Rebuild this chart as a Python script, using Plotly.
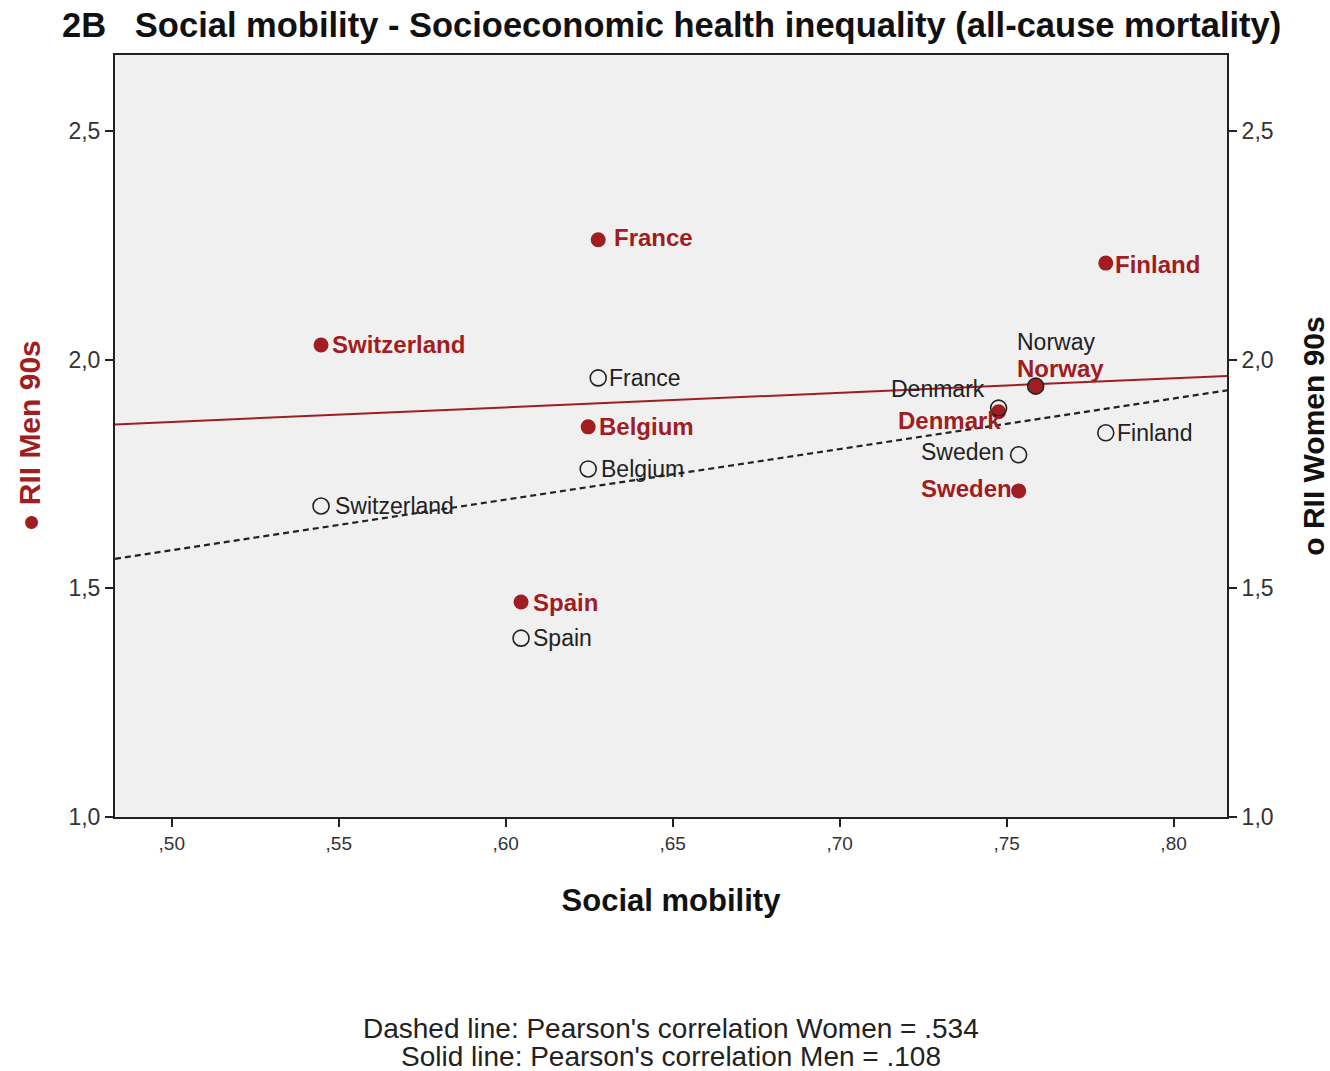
import numpy as np
import plotly.graph_objects as go

countries = ["France", "Finland", "Switzerland", "Belgium", "Norway", "Denmark", "Sweden", "Spain"]
social_mobility = [0.6277, 0.7797, 0.5447, 0.6247, 0.7587, 0.7476, 0.7536, 0.6046]
rii_men = [2.262, 2.211, 2.032, 1.853, 1.942, 1.886, 1.713, 1.470]
rii_women = [1.960, 1.840, 1.680, 1.761, 1.942, 1.894, 1.792, 1.391]

x_tickvals = [0.50, 0.55, 0.60, 0.65, 0.70, 0.75, 0.80]
x_ticktext = [",50", ",55", ",60", ",65", ",70", ",75", ",80"]
y_tickvals = [1.0, 1.5, 2.0, 2.5]

XR = [0.483, 0.816]
YR = [1.0, 2.666]
RED = "#a01d22"
FONT = "Liberation Sans, Arial, sans-serif"

# label placement (xanchor, xshift, yshift)
men_lab = {
    "France": ("left", 14, 2), "Finland": ("left", 7, -1), "Switzerland": ("left", 9, 0),
    "Belgium": ("left", 9, 0), "Spain": ("left", 10, 0), "Norway": ("left", -21, 18),
    "Denmark": ("right", 4, -9), "Sweden": ("right", -5, 2),
}
women_lab = {
    "France": ("left", 9, 0), "Finland": ("left", 9, 0), "Switzerland": ("left", 12, 0),
    "Belgium": ("left", 11, 0), "Spain": ("left", 10, 0), "Norway": ("left", -21, 44),
    "Denmark": ("right", -12, 19), "Sweden": ("right", -13, 3),
}

fig = go.Figure()

# regression lines (least squares fit of the data)
xs = np.array(XR)
bm = np.polyfit(social_mobility, rii_men, 1)
bw = np.polyfit(social_mobility, rii_women, 1)
fig.add_trace(go.Scatter(x=xs, y=np.polyval(bm, xs), mode="lines",
                         line=dict(color=RED, width=2), yaxis="y", showlegend=False,
                         hoverinfo="skip"))
fig.add_trace(go.Scatter(x=xs, y=np.polyval(bw, xs), mode="lines",
                         line=dict(color="#222222", width=2.2, dash="6px,4px"), yaxis="y2",
                         showlegend=False, hoverinfo="skip"))

fig.add_trace(go.Scatter(x=social_mobility, y=rii_men, mode="markers",
                         marker=dict(color=RED, size=15, line=dict(width=0)),
                         yaxis="y", showlegend=False, name="RII Men 90s"))
fig.add_trace(go.Scatter(x=social_mobility, y=rii_women, mode="markers",
                         marker=dict(color="rgba(0,0,0,0)", size=16, symbol="circle",
                                     line=dict(color="#222222", width=1.6)),
                         yaxis="y2", showlegend=False, name="RII Women 90s"))

annotations = []
for c, xv, yv in zip(countries, social_mobility, rii_men):
    xa, xsft, ysft = men_lab[c]
    annotations.append(dict(x=xv, y=yv, xref="x", yref="y", text="<b>" + c + "</b>",
                            showarrow=False, xanchor=xa, yanchor="middle",
                            xshift=xsft, yshift=ysft,
                            font=dict(family=FONT, size=24, color=RED)))
for c, xv, yv in zip(countries, social_mobility, rii_women):
    xa, xsft, ysft = women_lab[c]
    annotations.append(dict(x=xv, y=yv, xref="x", yref="y2", text=c,
                            showarrow=False, xanchor=xa, yanchor="middle",
                            xshift=xsft, yshift=ysft,
                            font=dict(family=FONT, size=23, color="#222222")))

annotations.append(dict(x=0.5, y=1.0, xref="paper", yref="paper", yshift=30,
                        text="<b>2B   Social mobility - Socioeconomic health inequality (all-cause mortality)</b>",
                        showarrow=False, xanchor="center", yanchor="middle",
                        font=dict(family=FONT, size=34.5, color="#111111")))
annotations.append(dict(x=0.5, y=0, xref="paper", yref="paper", yshift=-211,
                        text="Dashed line: Pearson's correlation Women = .534",
                        showarrow=False, xanchor="center", yanchor="middle",
                        font=dict(family=FONT, size=28, color="#222222")))
annotations.append(dict(x=0.5, y=0, xref="paper", yref="paper", yshift=-239,
                        text="Solid line: Pearson's correlation Men = .108",
                        showarrow=False, xanchor="center", yanchor="middle",
                        font=dict(family=FONT, size=28, color="#222222")))

fig.update_layout(
    width=1330, height=1071,
    margin=dict(l=115, r=103, t=55, b=254),
    paper_bgcolor="white", plot_bgcolor="#f0f0f0",
    separators=",.",
    font=dict(family=FONT, size=18, color="#333333"),
    annotations=annotations,
    xaxis=dict(range=XR, tickvals=x_tickvals, ticktext=x_ticktext, showgrid=False,
               zeroline=False, showline=True, linecolor="#222222", linewidth=2, mirror=True,
               ticks="outside", ticklen=8, tickwidth=1.5, tickcolor="#222222",
               tickfont=dict(size=19, color="#333333"), automargin=False,
               title=dict(text="<b>Social mobility</b>", standoff=37,
                          font=dict(family=FONT, size=31, color="#111111"))),
    yaxis=dict(range=YR, tickvals=y_tickvals, tickformat=".1f", showgrid=False,
               zeroline=False, showline=True, linecolor="#222222", linewidth=2,
               ticks="outside", ticklen=8, tickwidth=1.5, tickcolor="#222222",
               tickfont=dict(size=23, color="#333333"), automargin=False,
               title=dict(text="<b>● RII Men 90s</b>", standoff=19,
                          font=dict(family=FONT, size=30, color=RED))),
    yaxis2=dict(range=YR, tickvals=y_tickvals, tickformat=".1f", overlaying="y", side="right",
                showgrid=False, zeroline=False, showline=True, linecolor="#222222", linewidth=2,
                ticks="outside", ticklen=8, tickwidth=1.5, tickcolor="#222222",
                tickfont=dict(size=23, color="#333333"), automargin=False,
                title=dict(text="<b>o RII Women 90s</b>", standoff=31,
                           font=dict(family=FONT, size=30, color="#111111"))),
)

fig.write_html("out.html")
